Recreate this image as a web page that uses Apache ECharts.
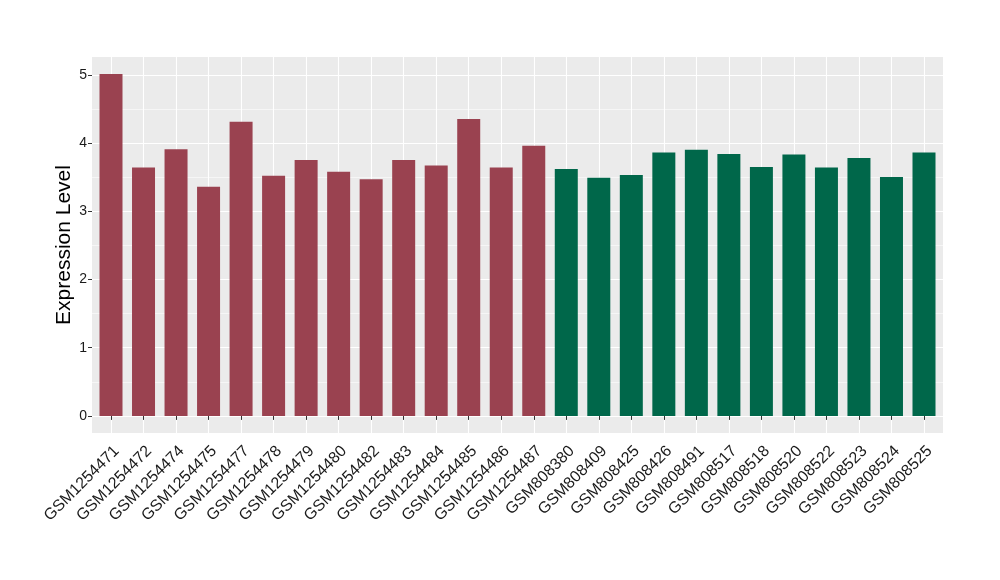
<!DOCTYPE html>
<html><head><meta charset="utf-8">
<script src="https://cdn.jsdelivr.net/npm/echarts@6/dist/echarts.min.js"></script>
<style>html,body{margin:0;padding:0;background:#fff}#c{width:1000px;height:580px}</style>
</head><body><div id="c"></div>
<script>
const categories = ["GSM1254471","GSM1254472","GSM1254474","GSM1254475","GSM1254477","GSM1254478","GSM1254479","GSM1254480","GSM1254482","GSM1254483","GSM1254484","GSM1254485","GSM1254486","GSM1254487","GSM808380","GSM808409","GSM808425","GSM808426","GSM808491","GSM808517","GSM808518","GSM808520","GSM808522","GSM808523","GSM808524","GSM808525"];
const values = [5.01,3.64,3.91,3.36,4.31,3.52,3.75,3.58,3.47,3.75,3.67,4.35,3.64,3.96,3.62,3.49,3.53,3.86,3.90,3.84,3.65,3.83,3.64,3.78,3.50,3.86];
const groups = ["A","A","A","A","A","A","A","A","A","A","A","A","A","A","B","B","B","B","B","B","B","B","B","B","B","B"];
const groupColors = {A:"#9a4250", B:"#00674a"};
const majorTicks = [0,1,2,3,4,5];
const minorTicks = [0.5,1.5,2.5,3.5,4.5];
const yMin = -0.2505, yMax = 5.2605;

const chart = echarts.init(document.getElementById('c'));
const font = "Liberation Sans";
chart.setOption({
  animation:false,
  textStyle:{fontFamily:font},
  grid:[
    {left:92,right:57,top:57,bottom:147,show:true,backgroundColor:"#EBEBEB",borderWidth:0},
    {left:111,right:76,top:57,bottom:147,show:false}
  ],
  xAxis:[
    {gridIndex:0,type:"value",show:false,min:0,max:1},
    {gridIndex:1,type:"category",data:categories,boundaryGap:false,
     axisLine:{show:false},
     axisTick:{show:true,length:4,lineStyle:{color:"#333"}},
     axisLabel:{rotate:45,fontSize:16,color:"#1a1a1a",margin:10,interval:0,verticalAlign:"top",fontFamily:font},
     splitLine:{show:true,lineStyle:{color:"#fff",width:1.1}}}
  ],
  yAxis:[
    {gridIndex:0,type:"value",min:yMin,max:yMax,
     name:"Expression Level",nameLocation:"middle",nameGap:17,nameMoveOverlap:false,
     nameTextStyle:{fontSize:21,color:"#000",fontFamily:font},
     axisLine:{show:false},
     axisTick:{show:true,length:4,lineStyle:{color:"#333"},customValues:majorTicks},
     axisLabel:{fontSize:14,color:"#1a1a1a",margin:5,customValues:majorTicks,fontFamily:font},
     splitLine:{show:true,lineStyle:{color:"#fff",width:1.1}}},
    {gridIndex:0,type:"value",min:yMin,max:yMax,
     axisLine:{show:false},
     axisTick:{show:false,customValues:minorTicks},
     axisLabel:{show:false,customValues:minorTicks},
     splitLine:{show:true,lineStyle:{color:"#fff",width:0.55}}},
    {gridIndex:1,type:"value",min:yMin,max:yMax,show:false,splitLine:{show:false}}
  ],
  series:[{
    type:"bar",xAxisIndex:1,yAxisIndex:2,barWidth:23,
    data:values.map((v,i)=>({value:v,itemStyle:{color:groupColors[groups[i]]}}))
  }]
});
</script></body></html>
